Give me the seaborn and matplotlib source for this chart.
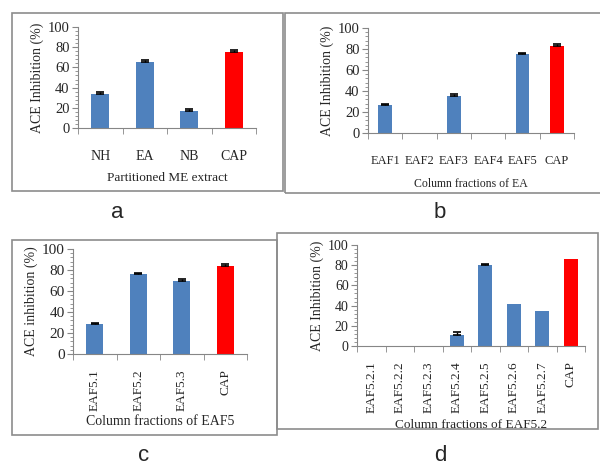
"""
ACE inhibition of partitioned extract and column fractions (panels a-d).
"""

import numpy as np
import matplotlib
matplotlib.use("Agg")
import matplotlib.pyplot as plt
from matplotlib.patches import Rectangle
from matplotlib.ticker import MultipleLocator, FixedLocator
import seaborn as sns

# ---- data -------------------------------------------------------------
cats_a = ["NH", "EA", "NB", "CAP"]
vals_a = [34, 65, 17, 75]
errs_a = [2, 2, 1.5, 2]

cats_b = ["EAF1", "EAF2", "EAF3", "EAF4", "EAF5", "CAP"]
vals_b = [27, 0, 35, 0, 75.5, 83]
errs_b = [1, 0, 2, 0, 1, 1.5]

cats_c = ["EAF5.1", "EAF5.2", "EAF5.3", "CAP"]
vals_c = [28.5, 76, 70, 84]
errs_c = [1.5, 1, 1.5, 1.5]

cats_d = ["EAF5.2.1", "EAF5.2.2", "EAF5.2.3", "EAF5.2.4",
          "EAF5.2.5", "EAF5.2.6", "EAF5.2.7", "CAP"]
vals_d = [0, 0, 0, 11, 80.5, 42, 34.5, 86]
errs_d = [0, 0, 0, 3, 1, 0, 0, 0]

BLUE = "#4F81BD"
RED = "#FF0000"
AXIS_GREY = "#868686"

sns.set_style("white")
plt.rcParams["font.family"] = ["Liberation Serif", "DejaVu Serif"]


def draw_panel(ax, cats, vals, errs, ylabel, xlabel, width, rotate,
               tick_fs, lab_fs, xlab_fs, xlab_pad):
    colors = [BLUE] * (len(cats) - 1) + [RED]
    sns.barplot(x=cats, y=vals, hue=cats, palette=colors, legend=False,
                width=width, saturation=1, ax=ax, edgecolor="none")
    # only positive (plus) error bars, skip the ones that are zero
    pos = np.arange(len(cats))
    v = np.asarray(vals, float)
    e = np.asarray(errs, float)
    m = e > 0
    ax.errorbar(pos[m], v[m], yerr=[np.zeros(m.sum()), e[m]], fmt="none",
                ecolor="black", elinewidth=1, capsize=3, capthick=1.2)
    ax.set_ylim(0, 100)
    ax.set_xlim(-0.5, len(cats) - 0.5)
    ax.yaxis.set_major_locator(MultipleLocator(20))
    ax.yaxis.set_minor_locator(MultipleLocator(4))
    # category boundaries get the tick marks, like Excel
    ax.xaxis.set_minor_locator(FixedLocator(np.arange(-0.5, len(cats), 1.0)))
    sns.despine(ax=ax)
    for s in ["left", "bottom"]:
        ax.spines[s].set_color(AXIS_GREY)
        ax.spines[s].set_linewidth(0.8)
    ax.tick_params(axis="y", which="major", length=4, color=AXIS_GREY,
                   direction="out", labelsize=tick_fs, pad=2, left=True)
    ax.tick_params(axis="y", which="minor", length=2, color=AXIS_GREY,
                   direction="out", left=True)
    ax.tick_params(axis="x", which="minor", length=4, color=AXIS_GREY,
                   direction="out", bottom=True)
    if rotate:
        ax.tick_params(axis="x", which="major", length=0,
                       labelsize=lab_fs, pad=11)
        for t in ax.get_xticklabels():
            t.set_rotation(90)
            t.set_va("top")
    else:
        ax.tick_params(axis="x", which="major", length=0,
                       labelsize=lab_fs, pad=16)
    ax.set_ylabel(ylabel, fontsize=10, labelpad=3)
    ax.set_xlabel(xlabel, fontsize=xlab_fs, labelpad=xlab_pad)


fig = plt.figure(figsize=(6, 4.68), dpi=100)
W, H = 600.0, 468.0


def rect(x0, y0, x1, y1):
    # pixel box (top-left origin) -> figure fraction [l, b, w, h]
    return [x0 / W, 1 - y1 / H, (x1 - x0) / W, (y1 - y0) / H]


# panel frames
for x0, y0, x1, y1 in [(12, 13, 283, 191), (285, 13, 605, 193),
                       (12, 240, 277, 435), (277, 233, 598, 429)]:
    l, b, w, h = rect(x0, y0, x1, y1)
    fig.add_artist(Rectangle((l, b), w, h, transform=fig.transFigure,
                             fill=False, edgecolor="#8C8C8C", lw=1.2))

ax_a = fig.add_axes(rect(78, 27, 256, 128))
draw_panel(ax_a, cats_a, vals_a, errs_a, "ACE Inhibition (%)",
           "Partitioned ME extract", 0.4, False, 10.5, 10, 9.5, 6)

ax_b = fig.add_axes(rect(368, 28, 574, 133))
draw_panel(ax_b, cats_b, vals_b, errs_b, "ACE Inhibition (%)",
           "Column fractions of EA", 0.4, False, 10.5, 9, 8.5, 8)

ax_c = fig.add_axes(rect(73, 249, 247, 354))
draw_panel(ax_c, cats_c, vals_c, errs_c, "ACE inhibition (%)",
           "Column fractions of EAF5", 0.4, True, 11, 9.5, 10, 3)

ax_d = fig.add_axes(rect(357, 245, 585, 346))
draw_panel(ax_d, cats_d, vals_d, errs_d, "ACE Inhibition (%)",
           "Column fractions of EAF5.2", 0.5, True, 10, 9.5, 9.5, 4)

# panel letters (y = baseline in pixels)
for letter, x, y in [("a", 117, 218), ("b", 440, 218),
                     ("c", 144, 461), ("d", 440, 461)]:
    fig.text(x / W, 1 - y / H, letter, fontsize=16, ha="center",
             va="baseline", family=["Liberation Sans", "DejaVu Sans"])

fig.savefig("out.png", dpi=100)
plt.close(fig)
